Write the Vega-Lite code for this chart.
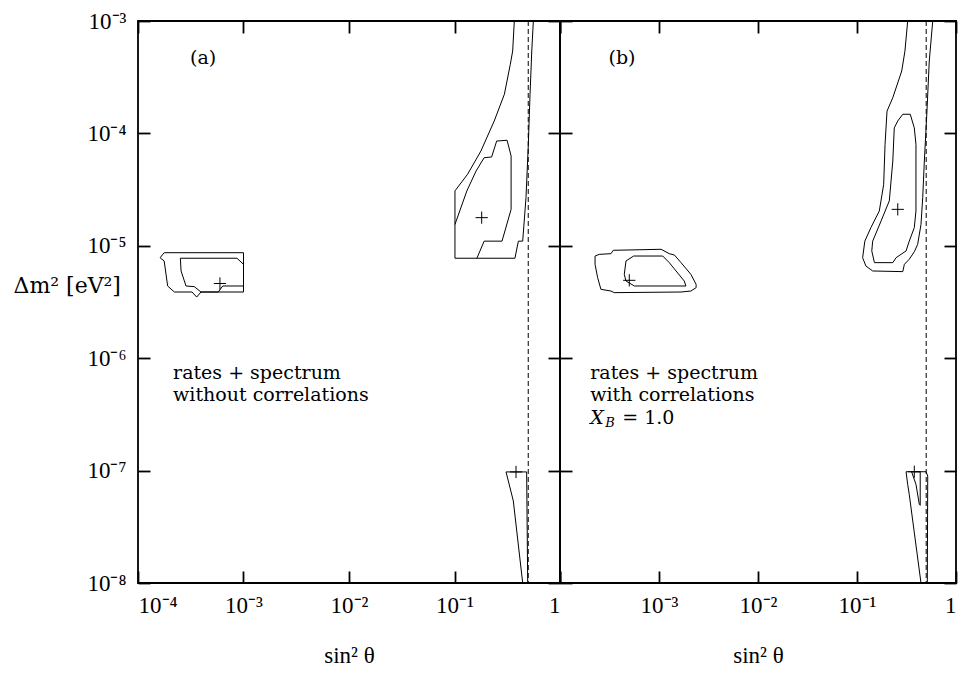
{
  "$schema": "https://vega.github.io/schema/vega-lite/v6.json",
  "padding": {"left": 12, "top": 9, "right": 5, "bottom": 5},
  "background": "white",
  "bounds": "flush",
  "spacing": 0,
  "config": {
    "view": {"stroke": "black", "strokeWidth": 1.8},
    "font": "Liberation Serif",
    "axis": {
      "domain": false, "grid": false, "ticks": true, "tickSize": -12,
      "tickColor": "black", "tickWidth": 1.8,
      "labelFont": "Liberation Serif", "labelFontSize": 23, "labelColor": "black",
      "titleFont": "Liberation Serif", "titleFontSize": 23, "titleFontWeight": "normal", "titleColor": "black"
    },
    "text": {"font": "DejaVu Serif", "fontSize": 19, "color": "black", "align": "left", "baseline": "middle"}
  },
  "datasets": {
    "dash": [{"x": 0.5}],
    "leftLines": [
      {"id": "a1", "i": 1, "x": 0.000177, "y": 8.68e-6},
      {"id": "a1", "i": 2, "x": 0.001, "y": 8.68e-6},
      {"id": "a1", "i": 3, "x": 0.001, "y": 3.88e-6},
      {"id": "a1", "i": 4, "x": 0.000395, "y": 3.88e-6},
      {"id": "a1", "i": 5, "x": 0.00036, "y": 3.5e-6},
      {"id": "a1", "i": 6, "x": 0.000325, "y": 3.88e-6},
      {"id": "a1", "i": 7, "x": 0.000221, "y": 3.88e-6},
      {"id": "a1", "i": 8, "x": 0.000191, "y": 4.39e-6},
      {"id": "a1", "i": 9, "x": 0.000177, "y": 7.33e-6},
      {"id": "a1", "i": 10, "x": 0.000162, "y": 7.83e-6},
      {"id": "a1", "i": 11, "x": 0.000177, "y": 8.68e-6},
      {"id": "a2", "i": 1, "x": 0.000252, "y": 7.75e-6},
      {"id": "a2", "i": 2, "x": 0.000867, "y": 7.75e-6},
      {"id": "a2", "i": 3, "x": 0.001, "y": 6.84e-6},
      {"id": "a2", "i": 4, "x": 0.001, "y": 4.39e-6},
      {"id": "a2", "i": 5, "x": 0.000635, "y": 4.39e-6},
      {"id": "a2", "i": 6, "x": 0.000577, "y": 3.88e-6},
      {"id": "a2", "i": 7, "x": 0.000395, "y": 3.88e-6},
      {"id": "a2", "i": 8, "x": 0.000342, "y": 4.33e-6},
      {"id": "a2", "i": 9, "x": 0.000285, "y": 4.39e-6},
      {"id": "a2", "i": 10, "x": 0.000256, "y": 5.97e-6},
      {"id": "a2", "i": 11, "x": 0.000252, "y": 7.75e-6},
      {"id": "b1", "i": 1, "x": 0.369, "y": 0.001},
      {"id": "b1", "i": 2, "x": 0.356, "y": 0.000541},
      {"id": "b1", "i": 3, "x": 0.338, "y": 0.000412},
      {"id": "b1", "i": 4, "x": 0.297, "y": 0.000223},
      {"id": "b1", "i": 5, "x": 0.238, "y": 0.000129},
      {"id": "b1", "i": 6, "x": 0.178, "y": 6.97e-5},
      {"id": "b1", "i": 7, "x": 0.133, "y": 4.33e-5},
      {"id": "b1", "i": 8, "x": 0.101, "y": 3.08e-5},
      {"id": "b1", "i": 9, "x": 0.101, "y": 7.75e-6},
      {"id": "b1", "i": 10, "x": 0.374, "y": 7.75e-6},
      {"id": "b1", "i": 11, "x": 0.403, "y": 1.1e-5},
      {"id": "b1", "i": 12, "x": 0.443, "y": 1.1e-5},
      {"id": "b1", "i": 13, "x": 0.476, "y": 2.68e-5},
      {"id": "b1", "i": 14, "x": 0.501, "y": 8.0e-5},
      {"id": "b1", "i": 15, "x": 0.52, "y": 0.000223},
      {"id": "b1", "i": 16, "x": 0.54, "y": 0.000541},
      {"id": "b1", "i": 17, "x": 0.559, "y": 0.001},
      {"id": "b2", "i": 1, "x": 0.101, "y": 1.55e-5},
      {"id": "b2", "i": 2, "x": 0.131, "y": 3.08e-5},
      {"id": "b2", "i": 3, "x": 0.16, "y": 4.62e-5},
      {"id": "b2", "i": 4, "x": 0.191, "y": 6.08e-5},
      {"id": "b2", "i": 5, "x": 0.225, "y": 6.17e-5},
      {"id": "b2", "i": 6, "x": 0.251, "y": 8.55e-5},
      {"id": "b2", "i": 7, "x": 0.315, "y": 8.69e-5},
      {"id": "b2", "i": 8, "x": 0.344, "y": 6.3e-5},
      {"id": "b2", "i": 9, "x": 0.344, "y": 2.11e-5},
      {"id": "b2", "i": 10, "x": 0.282, "y": 1.1e-5},
      {"id": "b2", "i": 11, "x": 0.191, "y": 1.1e-5},
      {"id": "b2", "i": 12, "x": 0.163, "y": 7.75e-6},
      {"id": "c1", "i": 1, "x": 0.443, "y": 1e-8},
      {"id": "c1", "i": 2, "x": 0.361, "y": 5.37e-8},
      {"id": "c1", "i": 3, "x": 0.308, "y": 9.73e-8},
      {"id": "c1", "i": 4, "x": 0.483, "y": 9.73e-8},
      {"id": "c1", "i": 5, "x": 0.494, "y": 1e-8}
    ],
    "leftPoints": [
      {"x": 0.000598, "y": 4.62e-6},
      {"x": 0.181, "y": 1.78e-5},
      {"x": 0.383, "y": 9.73e-8}
    ],
    "leftText": [
      {"x": 0.000311, "y": 0.000469, "label": "(a)"},
      {"x": 0.000215, "y": 7.4e-7, "label": "rates + spectrum\nwithout correlations"}
    ],
    "rightLines": [
      {"id": "d1", "i": 1, "x": 0.000226, "y": 8.11e-6},
      {"id": "d1", "i": 2, "x": 0.000249, "y": 8.39e-6},
      {"id": "d1", "i": 3, "x": 0.000327, "y": 8.51e-6},
      {"id": "d1", "i": 4, "x": 0.000345, "y": 9.12e-6},
      {"id": "d1", "i": 5, "x": 0.00105, "y": 9.31e-6},
      {"id": "d1", "i": 6, "x": 0.00127, "y": 8.51e-6},
      {"id": "d1", "i": 7, "x": 0.00143, "y": 8.28e-6},
      {"id": "d1", "i": 8, "x": 0.00167, "y": 7.08e-6},
      {"id": "d1", "i": 9, "x": 0.0021, "y": 5.57e-6},
      {"id": "d1", "i": 10, "x": 0.00237, "y": 4.54e-6},
      {"id": "d1", "i": 11, "x": 0.00237, "y": 4.24e-6},
      {"id": "d1", "i": 12, "x": 0.0021, "y": 3.96e-6},
      {"id": "d1", "i": 13, "x": 0.00167, "y": 3.88e-6},
      {"id": "d1", "i": 14, "x": 0.000353, "y": 3.83e-6},
      {"id": "d1", "i": 15, "x": 0.000327, "y": 3.96e-6},
      {"id": "d1", "i": 16, "x": 0.000259, "y": 4.1e-6},
      {"id": "d1", "i": 17, "x": 0.00024, "y": 5.2e-6},
      {"id": "d1", "i": 18, "x": 0.000226, "y": 6.84e-6},
      {"id": "d1", "i": 19, "x": 0.000226, "y": 8.11e-6},
      {"id": "d2", "i": 1, "x": 0.000464, "y": 7.33e-6},
      {"id": "d2", "i": 2, "x": 0.000555, "y": 8.11e-6},
      {"id": "d2", "i": 3, "x": 0.00109, "y": 8.11e-6},
      {"id": "d2", "i": 4, "x": 0.00127, "y": 7.08e-6},
      {"id": "d2", "i": 5, "x": 0.0018, "y": 4.86e-6},
      {"id": "d2", "i": 6, "x": 0.00187, "y": 4.39e-6},
      {"id": "d2", "i": 7, "x": 0.000564, "y": 4.39e-6},
      {"id": "d2", "i": 8, "x": 0.000464, "y": 4.86e-6},
      {"id": "d2", "i": 9, "x": 0.000446, "y": 5.57e-6},
      {"id": "d2", "i": 10, "x": 0.000464, "y": 7.33e-6},
      {"id": "e1", "i": 1, "x": 0.325, "y": 0.001},
      {"id": "e1", "i": 2, "x": 0.305, "y": 0.000541},
      {"id": "e1", "i": 3, "x": 0.283, "y": 0.000359},
      {"id": "e1", "i": 4, "x": 0.23, "y": 0.000208},
      {"id": "e1", "i": 5, "x": 0.201, "y": 0.000158},
      {"id": "e1", "i": 6, "x": 0.192, "y": 8.0e-5},
      {"id": "e1", "i": 7, "x": 0.186, "y": 3.52e-5},
      {"id": "e1", "i": 8, "x": 0.168, "y": 2.04e-5},
      {"id": "e1", "i": 9, "x": 0.138, "y": 1.45e-5},
      {"id": "e1", "i": 10, "x": 0.12, "y": 1.1e-5},
      {"id": "e1", "i": 11, "x": 0.114, "y": 7.83e-6},
      {"id": "e1", "i": 12, "x": 0.123, "y": 6.61e-6},
      {"id": "e1", "i": 13, "x": 0.144, "y": 5.97e-6},
      {"id": "e1", "i": 14, "x": 0.29, "y": 5.89e-6},
      {"id": "e1", "i": 15, "x": 0.301, "y": 6.84e-6},
      {"id": "e1", "i": 16, "x": 0.337, "y": 7.59e-6},
      {"id": "e1", "i": 17, "x": 0.379, "y": 8.85e-6},
      {"id": "e1", "i": 18, "x": 0.41, "y": 1.03e-5},
      {"id": "e1", "i": 19, "x": 0.443, "y": 1.55e-5},
      {"id": "e1", "i": 20, "x": 0.461, "y": 2.68e-5},
      {"id": "e1", "i": 21, "x": 0.479, "y": 5.68e-5},
      {"id": "e1", "i": 22, "x": 0.509, "y": 0.000158},
      {"id": "e1", "i": 23, "x": 0.537, "y": 0.000441},
      {"id": "e1", "i": 24, "x": 0.582, "y": 0.001},
      {"id": "e2", "i": 1, "x": 0.29, "y": 0.000148},
      {"id": "e2", "i": 2, "x": 0.345, "y": 0.000148},
      {"id": "e2", "i": 3, "x": 0.379, "y": 0.000112},
      {"id": "e2", "i": 4, "x": 0.394, "y": 8.0e-5},
      {"id": "e2", "i": 5, "x": 0.394, "y": 2.04e-5},
      {"id": "e2", "i": 6, "x": 0.379, "y": 1.45e-5},
      {"id": "e2", "i": 7, "x": 0.337, "y": 1.1e-5},
      {"id": "e2", "i": 8, "x": 0.313, "y": 9.0e-6},
      {"id": "e2", "i": 9, "x": 0.278, "y": 8.39e-6},
      {"id": "e2", "i": 10, "x": 0.248, "y": 7.83e-6},
      {"id": "e2", "i": 11, "x": 0.23, "y": 7.08e-6},
      {"id": "e2", "i": 12, "x": 0.15, "y": 7.08e-6},
      {"id": "e2", "i": 13, "x": 0.141, "y": 9.0e-6},
      {"id": "e2", "i": 14, "x": 0.144, "y": 1.1e-5},
      {"id": "e2", "i": 15, "x": 0.175, "y": 1.66e-5},
      {"id": "e2", "i": 16, "x": 0.212, "y": 2.51e-5},
      {"id": "e2", "i": 17, "x": 0.23, "y": 5.68e-5},
      {"id": "e2", "i": 18, "x": 0.238, "y": 0.000112},
      {"id": "e2", "i": 19, "x": 0.258, "y": 0.000129},
      {"id": "e2", "i": 20, "x": 0.29, "y": 0.000148},
      {"id": "f1", "i": 1, "x": 0.443, "y": 1e-8},
      {"id": "f1", "i": 2, "x": 0.337, "y": 6.15e-8},
      {"id": "f1", "i": 3, "x": 0.325, "y": 7.55e-8},
      {"id": "f1", "i": 4, "x": 0.313, "y": 9.77e-8},
      {"id": "f1", "i": 5, "x": 0.498, "y": 9.77e-8},
      {"id": "f1", "i": 6, "x": 0.518, "y": 8.95e-8},
      {"id": "f1", "i": 7, "x": 0.513, "y": 1e-8},
      {"id": "f2", "i": 1, "x": 0.356, "y": 9.77e-8},
      {"id": "f2", "i": 2, "x": 0.394, "y": 7.55e-8},
      {"id": "f2", "i": 3, "x": 0.426, "y": 5.01e-8},
      {"id": "f2", "i": 4, "x": 0.435, "y": 4.91e-8},
      {"id": "f2", "i": 5, "x": 0.435, "y": 9.77e-8},
      {"id": "f2", "i": 6, "x": 0.356, "y": 9.77e-8}
    ],
    "rightPoints": [
      {"x": 0.000501, "y": 4.93e-6},
      {"x": 0.258, "y": 2.11e-5},
      {"x": 0.379, "y": 9.77e-8}
    ],
    "rightText": [
      {"x": 0.000309, "y": 0.000469, "label": "(b)"},
      {"x": 0.000202, "y": 7.4e-7, "label": "rates + spectrum\nwith correlations"}
    ],
    "xb": [
      {"x": 0.000202, "y": 2.95e-7}
    ]
  },
  "hconcat": [
    {
      "width": 422,
      "height": 562,
      "resolve": {"axis": {"x": "independent", "y": "independent"}},
      "layer": [
        {
          "data": {"name": "leftLines"},
          "mark": {"type": "line", "color": "black", "strokeWidth": 1, "clip": true},
          "encoding": {
            "x": {"field": "x", "type": "quantitative",
              "scale": {"type": "log", "domain": [0.0001, 1], "nice": false},
              "axis": {"orient": "bottom", "values": [0.0001, 0.001, 0.01, 0.1, 1],
                "labelExpr": "datum.value >= 0.5 ? '1' : '10⁻' + ['⁰','¹','²','³','⁴','⁵','⁶','⁷','⁸'][round(-log(datum.value)/LN10)]",
                "labelPadding": 23, "title": "sin² θ", "titlePadding": 27}},
            "y": {"field": "y", "type": "quantitative",
              "scale": {"type": "log", "domain": [1e-8, 0.001], "nice": false},
              "axis": {"orient": "left", "values": [1e-8, 1e-7, 1e-6, 1e-5, 0.0001, 0.001],
                "labelExpr": "'10⁻' + ['⁰','¹','²','³','⁴','⁵','⁶','⁷','⁸'][round(-log(datum.value)/LN10)]",
                "labelPadding": 24, "title": "Δm² [eV²]", "titleAngle": 0, "titleAlign": "left",
                "titleBaseline": "middle", "titleX": -125, "titleY": 264, "titleFont": "DejaVu Serif", "titleFontSize": 22}},
            "detail": {"field": "id"},
            "order": {"field": "i"}
          }
        },
        {
          "data": {"name": "leftPoints"},
          "mark": {"type": "point", "shape": "M-1,0H1M0,-1V1", "filled": false, "stroke": "black", "strokeWidth": 1, "size": 150, "opacity": 1},
          "encoding": {
            "x": {"field": "x", "type": "quantitative",
              "axis": {"orient": "top", "values": [0.0001, 0.001, 0.01, 0.1, 1], "labels": false, "title": null}},
            "y": {"field": "y", "type": "quantitative",
              "axis": {"orient": "right", "values": [1e-8, 1e-7, 1e-6, 1e-5, 0.0001, 0.001], "labels": false, "title": null}}
          }
        },
        {
          "data": {"name": "dash"},
          "mark": {"type": "rule", "color": "black", "strokeWidth": 1, "strokeDash": [5, 3]},
          "encoding": {"x": {"field": "x", "type": "quantitative", "axis": null}}
        },
        {
          "data": {"name": "leftText"},
          "mark": {"type": "text", "lineBreak": "\n", "lineHeight": 22},
          "encoding": {
            "x": {"field": "x", "type": "quantitative", "axis": null},
            "y": {"field": "y", "type": "quantitative", "axis": null},
            "text": {"field": "label"}
          }
        }
      ]
    },
    {
      "width": 396,
      "height": 562,
      "resolve": {"axis": {"x": "independent", "y": "independent"}},
      "layer": [
        {
          "data": {"name": "rightLines"},
          "mark": {"type": "line", "color": "black", "strokeWidth": 1, "clip": true},
          "encoding": {
            "x": {"field": "x", "type": "quantitative",
              "scale": {"type": "log", "domain": [0.0001, 1], "nice": false},
              "axis": {"orient": "bottom", "values": [0.0001, 0.001, 0.01, 0.1, 1],
                "labelExpr": "datum.value < 0.0005 ? '' : datum.value >= 0.5 ? '1' : '10⁻' + ['⁰','¹','²','³','⁴','⁵','⁶','⁷','⁸'][round(-log(datum.value)/LN10)]",
                "labelPadding": 23, "title": "sin² θ", "titlePadding": 27}},
            "y": {"field": "y", "type": "quantitative",
              "scale": {"type": "log", "domain": [1e-8, 0.001], "nice": false},
              "axis": {"orient": "left", "values": [1e-8, 1e-7, 1e-6, 1e-5, 0.0001, 0.001], "labels": false, "title": null}},
            "detail": {"field": "id"},
            "order": {"field": "i"}
          }
        },
        {
          "data": {"name": "rightPoints"},
          "mark": {"type": "point", "shape": "M-1,0H1M0,-1V1", "filled": false, "stroke": "black", "strokeWidth": 1, "size": 150, "opacity": 1},
          "encoding": {
            "x": {"field": "x", "type": "quantitative",
              "axis": {"orient": "top", "values": [0.0001, 0.001, 0.01, 0.1, 1], "labels": false, "title": null}},
            "y": {"field": "y", "type": "quantitative",
              "axis": {"orient": "right", "values": [1e-8, 1e-7, 1e-6, 1e-5, 0.0001, 0.001], "labels": false, "title": null}}
          }
        },
        {
          "data": {"name": "dash"},
          "mark": {"type": "rule", "color": "black", "strokeWidth": 1, "strokeDash": [5, 3]},
          "encoding": {"x": {"field": "x", "type": "quantitative", "axis": null}}
        },
        {
          "data": {"name": "rightText"},
          "mark": {"type": "text", "lineBreak": "\n", "lineHeight": 22},
          "encoding": {
            "x": {"field": "x", "type": "quantitative", "axis": null},
            "y": {"field": "y", "type": "quantitative", "axis": null},
            "text": {"field": "label"}
          }
        },
        {
          "data": {"name": "xb"},
          "mark": {"type": "text", "fontStyle": "italic"},
          "encoding": {
            "x": {"field": "x", "type": "quantitative", "axis": null},
            "y": {"field": "y", "type": "quantitative", "axis": null},
            "text": {"value": "X"}
          }
        },
        {
          "data": {"name": "xb"},
          "mark": {"type": "text", "fontStyle": "italic", "fontSize": 13, "dx": 15, "dy": 5},
          "encoding": {
            "x": {"field": "x", "type": "quantitative", "axis": null},
            "y": {"field": "y", "type": "quantitative", "axis": null},
            "text": {"value": "B"}
          }
        },
        {
          "data": {"name": "xb"},
          "mark": {"type": "text", "dx": 32},
          "encoding": {
            "x": {"field": "x", "type": "quantitative", "axis": null},
            "y": {"field": "y", "type": "quantitative", "axis": null},
            "text": {"value": "= 1.0"}
          }
        }
      ]
    }
  ]
}
